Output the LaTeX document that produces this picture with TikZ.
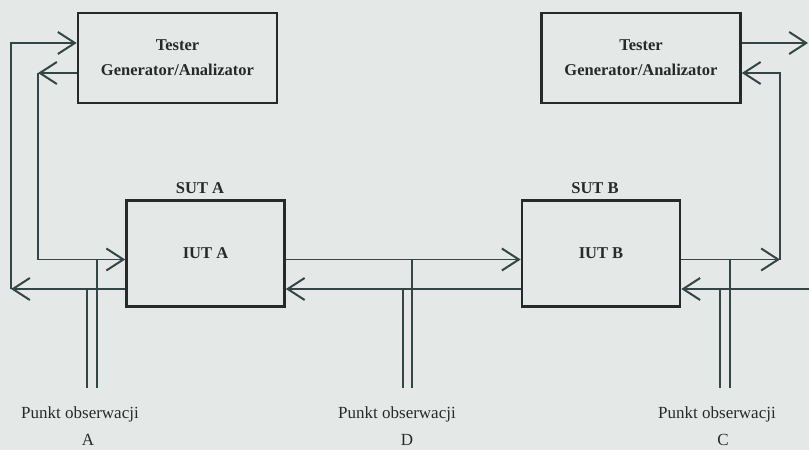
\documentclass[tikz,border=0pt]{standalone}
\usepackage{fontspec}
\setmainfont{Liberation Serif}
\usepackage{tikz}
\usetikzlibrary{arrows.meta}
\definecolor{paper}{RGB}{228, 233, 232}
\definecolor{ink}{RGB}{40, 42, 42}
\definecolor{wireink}{RGB}{55, 68, 68}

\begin{document}
\begin{tikzpicture}[x=1pt, y=-1pt,
    >={Straight Barb[length=17pt, width=22pt, line width=2pt]},
    unit/.style={draw=ink, line width=2.6pt, text=ink, align=center, inner sep=0pt,
      font=\bfseries\fontsize{16.5}{25}\selectfont},
    tester/.style={unit, minimum width=199pt, minimum height=90pt},
    iut/.style={unit, minimum width=158pt, minimum height=106pt},
    wire/.style={draw=wireink, line width=1.4pt},
    tag/.style={text=ink, anchor=base, font=\bfseries\fontsize{16.5}{20}\selectfont},
    obs/.style={text=ink, anchor=base, inner sep=1pt, font=\fontsize{17}{20}\selectfont}]

  \fill[paper] (0, 0) rectangle (809, 450);
  \useasboundingbox (0, 0) rectangle (809, 450);

  % testers and implementations
  \node[tester] (testerA) at (177.5, 58) {Tester\\Generator/Analizator};
  \node[tester] (testerB) at (641, 58) {Tester\\Generator/Analizator};
  \node[iut] (iutA) at (205.5, 253.5) {IUT A};
  \node[iut] (iutB) at (601, 253.5) {IUT B};
  \node[tag] (sutA) at (200, 193) {SUT A};
  \node[tag] (sutB) at (595, 193) {SUT B};

  % levels and corners of the links
  \coordinate (up) at (0, 259.5);
  \coordinate (low) at (0, 289);
  \coordinate (leftIn) at (11, 289);
  \coordinate (leftOut) at (38, 73);
  \coordinate (rightOut) at (780, 259.5);
  \coordinate (edgeOut) at (808, 43);
  \coordinate (edgeIn) at (809, 289);

  \draw[wire, ->] ([yshift=-15pt]testerA.west) -- (leftOut);
  \draw[wire, ->] (leftOut) |- (iutA.west |- up);
  \draw[wire, ->] (iutA.west |- low) -- (leftIn);
  \draw[wire, ->] (leftIn) |- ([yshift=15pt]testerA.west);

  \draw[wire, ->] (iutA.east |- up) -- (iutB.west |- up);
  \draw[wire, ->] (iutB.west |- low) -- (iutA.east |- low);

  \draw[wire, ->] (iutB.east |- up) -- (rightOut);
  \draw[wire, ->] (rightOut) |- ([yshift=-15pt]testerB.east);
  \draw[wire, ->] ([yshift=15pt]testerB.east) -- (edgeOut);
  \draw[wire, ->] (edgeIn) -- (iutB.east |- low);

  % observation points
  \foreach \name/\xl/\xr/\xt/\xc in {A/87/97/80/88, D/403/412/397/407, C/720/730/717/723} {
    \coordinate (footL\name) at (\xl, 388);
    \coordinate (footR\name) at (\xr, 388);
    \draw[wire] (footL\name |- low) -- (footL\name);
    \draw[wire] (footR\name |- up) -- (footR\name);
    \node[obs] (punkt\name) at (\xt, 418) {Punkt obserwacji};
    \node[obs] (letter\name) at (\xc, 445) {\name};
  }

\end{tikzpicture}
\end{document}
